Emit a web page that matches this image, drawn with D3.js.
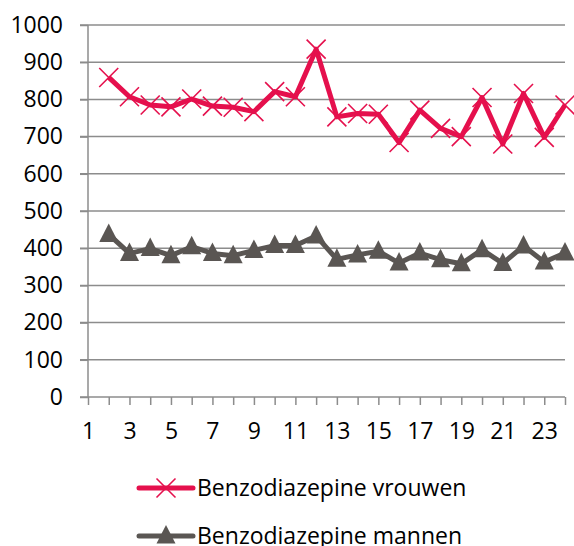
<!DOCTYPE html>
<html>
<head>
<meta charset="utf-8">
<script src="https://cdn.jsdelivr.net/npm/d3@7"></script>
<style>
  body { margin: 0; background: #fff; }
  svg text { font-family: "Open Sans", sans-serif; fill: #000; }
</style>
</head>
<body>
<div id="chart"></div>
<script>
var svgWidth = 574;
var svgHeight = 546;

// categories 1..24, first one empty
var categories = d3.range(1, 25);
var vrouwen = [null, 859, 807, 785, 780, 801, 782, 779, 767, 821, 807, 935, 753, 762, 760, 684, 771, 722, 700, 805, 680, 816, 698, 785];
var mannen = [null, 437, 386, 399, 380, 404, 386, 380, 394, 407, 407, 433, 370, 382, 392, 360, 387, 369, 358, 396, 359, 406, 363, 387];
var yTicks = [0, 100, 200, 300, 400, 500, 600, 700, 800, 900, 1000];

var series = [
  { name: "Benzodiazepine vrouwen", values: vrouwen, color: "#E5104D", marker: "x" },
  { name: "Benzodiazepine mannen", values: mannen, color: "#5A5653", marker: "tri" }
];

var svg = d3.select("#chart")
  .append("svg")
  .attr("width", svgWidth)
  .attr("height", svgHeight);

var x = d3.scaleLinear().domain([1, 24]).range([88, 565]);
var y = d3.scaleLinear().domain([0, 1000]).range([397, 25]);

// gridlines
svg.append("g")
  .selectAll("line")
  .data(yTicks.filter(d => d > 0))
  .enter()
  .append("line")
  .attr("x1", 80)
  .attr("x2", 565)
  .attr("y1", d => y(d))
  .attr("y2", d => y(d))
  .attr("stroke", "#8c8c8c")
  .attr("stroke-width", 1.5);

// y axis
var yAxis = svg.append("g")
  .attr("transform", "translate(88,0)")
  .call(d3.axisLeft(y).tickValues(yTicks).tickSize(8).tickPadding(17).tickFormat(d3.format("d")));
yAxis.selectAll("line").attr("stroke", "#8c8c8c").attr("stroke-width", 1.5);
yAxis.select(".domain").attr("stroke", "#8c8c8c").attr("stroke-width", 1.5).attr("d", "M0,25V397");
yAxis.selectAll("text").style("font-size", "23px").style("font-family", "Open Sans");

// x axis
var xAxis = svg.append("g")
  .attr("transform", "translate(0,397)")
  .call(d3.axisBottom(x).tickValues(categories).tickSize(8).tickPadding(18)
    .tickFormat(d => d % 2 === 1 ? d : ""));
xAxis.selectAll("line").attr("stroke", "#8c8c8c").attr("stroke-width", 1.5);
xAxis.select(".domain").attr("stroke", "#8c8c8c").attr("stroke-width", 1.5).attr("d", "M80,0H565");
xAxis.selectAll("text").style("font-size", "23px").style("font-family", "Open Sans");

var line = d3.line()
  .defined(d => d.v != null)
  .x(d => x(d.c))
  .y(d => y(d.v));

function drawMarker(g, type, color) {
  if (type === "x") {
    g.append("path")
      .attr("d", "M-9.5,-9.5L9.5,9.5M-9.5,9.5L9.5,-9.5")
      .attr("stroke", color)
      .attr("stroke-width", 1.6)
      .attr("fill", "none");
  } else {
    g.append("path")
      .attr("d", "M0,-11L9.5,7.5L-9.5,7.5Z")
      .attr("fill", color);
  }
}

series.forEach(function (s) {
  var pts = categories.map((c, i) => ({ c: c, v: s.values[i] }));
  svg.append("path")
    .datum(pts)
    .attr("d", line)
    .attr("fill", "none")
    .attr("stroke", s.color)
    .attr("stroke-width", 5)
    .attr("stroke-linejoin", "round");

  pts.filter(d => d.v != null).forEach(function (d) {
    var g = svg.append("g").attr("transform", `translate(${x(d.c)},${y(d.v)})`);
    drawMarker(g, s.marker, s.color);
  });
});

// legend
var legend = svg.append("g");
series.forEach(function (s, i) {
  var ly = 488 + i * 48;
  legend.append("line")
    .attr("x1", 139).attr("x2", 193)
    .attr("y1", ly).attr("y2", ly)
    .attr("stroke", s.color)
    .attr("stroke-width", 5)
    .attr("stroke-linecap", "round");
  var g = legend.append("g").attr("transform", `translate(166,${ly})`);
  drawMarker(g, s.marker, s.color);
  legend.append("text")
    .attr("x", 197)
    .attr("y", ly + 8)
    .style("font-size", "23px")
    .text(s.name);
});
</script>
</body>
</html>
